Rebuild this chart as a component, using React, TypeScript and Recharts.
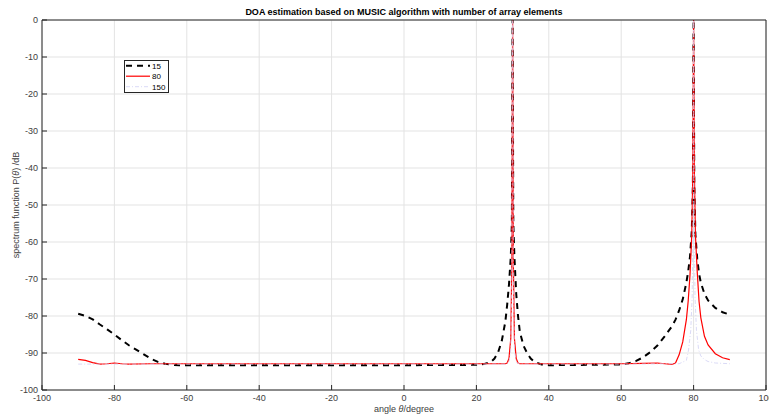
import React from "react";
import {
  LineChart,
  Line,
  XAxis,
  YAxis,
  CartesianGrid,
  Legend,
  Label,
} from "recharts";

const TITLE = "DOA estimation based on MUSIC algorithm with number of array elements";
const X_TICKS = [-100, -80, -60, -40, -20, 0, 20, 40, 60, 80, 100];
const Y_TICKS = [-100, -90, -80, -70, -60, -50, -40, -30, -20, -10, 0];

// 15 array elements (black dashed)
const ANGLES_15 = [-90, -88, -86, -84, -82, -80, -78, -76, -74, -72, -70, -68, -66, -64, -62, -60, -40, -20, 0, 20, 22, 24, 25, 26, 27, 28, 28.5, 29, 29.5, 29.8, 30, 30.2, 30.5, 31, 31.5, 32, 33, 34, 35, 36, 38, 40, 60, 62, 64, 66, 68, 70, 72, 74, 75, 76, 77, 78, 78.5, 79, 79.5, 79.8, 80, 80.2, 80.5, 81, 81.5, 82, 83, 84, 86, 88, 90];
const DB_15 = [-79.4, -80.0, -80.9, -82.3, -83.6, -85.0, -86.5, -87.9, -89.1, -90.3, -91.5, -92.4, -92.9, -93.2, -93.3, -93.3, -93.3, -93.3, -93.3, -93.2, -93.0, -92.4, -91.5, -89.8, -86.8, -81.5, -77, -71.5, -64, -55, 0, -55, -64, -74, -80, -84.3, -88, -90, -91.5, -92.4, -93.1, -93.3, -93.1, -92.8, -92.2, -91.2, -89.8, -88, -85.5, -82.8, -81, -78.5, -75.5, -71, -68, -64, -57, -45, 0, -45, -58, -64.5, -68.5, -71, -74, -75.8, -77.8, -79, -79.6];

// 80 array elements (red)
const ANGLES_80 = [-90, -88, -86, -84, -82, -80, -78, -76, -70, -60, -40, -20, 0, 20, 28, 28.5, 29, 29.5, 29.8, 30, 30.2, 30.5, 31, 31.5, 32, 40, 60, 66, 70, 72, 74, 75, 76, 77, 78, 78.5, 79, 79.5, 79.8, 80, 80.2, 80.5, 81, 81.5, 82, 83, 84, 86, 88, 90];
const DB_80 = [-91.7, -92.0, -92.6, -93.0, -92.9, -92.7, -92.9, -93.0, -92.9, -92.9, -92.9, -92.9, -92.9, -92.9, -92.9, -92.7, -91.5, -86, -65, 0, -65, -86, -91.5, -92.7, -92.9, -92.9, -92.9, -92.8, -92.7, -92.9, -93.1, -92.7, -90.5, -87, -81, -76, -69, -58, -40, 0, -40, -58, -68, -76, -80.5, -85.5, -87.8, -90.2, -91.3, -91.8];

// 150 array elements (faint dash-dot)
const ANGLES_150 = [-90, -60, -30, 0, 28, 29, 29.5, 29.8, 30, 30.2, 30.5, 31, 32, 60, 76, 78, 78.6, 79.2, 79.6, 79.9, 80, 80.1, 80.4, 80.8, 81.4, 82, 83, 84, 86, 90];
const DB_150 = [-93.0, -93.0, -93.0, -93.0, -93.0, -92.5, -89, -70, 0, -70, -89, -92.5, -93.0, -93.0, -92.9, -92.0, -89.2, -84, -75, -50, 0, -50, -75, -84, -89.2, -90.8, -91.8, -92.3, -92.7, -92.9];

const toPoints = (xs: number[], ys: number[]) => xs.map((x, i) => ({ angle: x, db: ys[i] }));

const SERIES = [
  { name: "15", data: toPoints(ANGLES_15, DB_15), color: "#000000", width: 2, dash: "6 5" },
  { name: "80", data: toPoints(ANGLES_80, DB_80), color: "#ff0000", width: 1.2, dash: undefined },
  { name: "150", data: toPoints(ANGLES_150, DB_150), color: "#d0d0f4", width: 0.8, dash: "4 2 1 2" },
];

const AXIS = "#262626";
const TICK_TEXT = "#404040";
const FONT = "'Liberation Sans', Arial, sans-serif";

const BottomTick = ({ x, y, payload }: any) => (
  <g>
    <line x1={x} x2={x} y1={y} y2={y - 5} stroke={AXIS} />
    <text x={x} y={y + 11} textAnchor="middle" fontSize={9} fill={TICK_TEXT} fontFamily={FONT}>
      {payload.value}
    </text>
  </g>
);
const TopTick = ({ x, y }: any) => <line x1={x} x2={x} y1={y} y2={y + 5} stroke={AXIS} />;
const LeftTick = ({ x, y, payload }: any) => (
  <g>
    <line x1={x} x2={x + 5} y1={y} y2={y} stroke={AXIS} />
    <text x={x - 4} y={y + 3} textAnchor="end" fontSize={9} fill={TICK_TEXT} fontFamily={FONT}>
      {payload.value}
    </text>
  </g>
);
const RightTick = ({ x, y }: any) => <line x1={x} x2={x - 5} y1={y} y2={y} stroke={AXIS} />;

const XTitle = ({ viewBox }: any) => (
  <text x={viewBox.x + viewBox.width / 2} y={412} textAnchor="middle" fontSize={9} fill={TICK_TEXT} fontFamily={FONT}>
    angle <tspan fontStyle="italic">θ</tspan>/degree
  </text>
);
const ChartTitle = ({ viewBox }: any) => (
  <text x={viewBox.x + viewBox.width / 2} y={15} textAnchor="middle" fontSize={9} fontWeight="bold" fill="#000" fontFamily={FONT}>
    {TITLE}
  </text>
);
const YTitle = ({ viewBox }: any) => {
  const cy = viewBox.y + viewBox.height / 2;
  return (
    <text x={19} y={cy} transform={`rotate(-90 19 ${cy})`} textAnchor="middle" fontSize={9} fill={TICK_TEXT} fontFamily={FONT}>
      spectrum function P(<tspan fontStyle="italic">θ</tspan>) /dB
    </text>
  );
};

const LegendBox = () => (
  <svg width={45} height={33} style={{ display: "block" }}>
    <rect x={0.5} y={0.5} width={44} height={32} fill="#fff" stroke={AXIS} />
    {SERIES.map((s, i) => {
      const y = 5.7 + i * 10.5;
      return (
        <g key={s.name}>
          <line x1={2} x2={26} y1={y} y2={y} stroke={s.color} strokeWidth={s.width} strokeDasharray={s.dash} />
          <text x={28} y={y + 3} fontSize={8} fill="#000" fontFamily={FONT}>
            {s.name}
          </text>
        </g>
      );
    })}
  </svg>
);

export default function App() {
  return (
    <div style={{ position: "absolute", left: 0, top: 0, width: 769, height: 416, background: "#fff" }}>
      <LineChart width={769} height={416} margin={{ top: 19, right: 2, left: 0, bottom: 0 }}>
        <CartesianGrid stroke="#e3e3e3" />
        <XAxis
          dataKey="angle"
          type="number"
          domain={[-100, 100]}
          ticks={X_TICKS}
          allowDataOverflow
          height={26}
          tickSize={0}
          tickMargin={0}
          tickLine={false}
          tick={BottomTick}
          stroke={AXIS}
          interval={0}
        >
          <Label content={XTitle} />
        </XAxis>
        <XAxis
          xAxisId="top"
          orientation="top"
          type="number"
          domain={[-100, 100]}
          ticks={X_TICKS}
          height={1}
          tickSize={0}
          tickMargin={0}
          tickLine={false}
          tick={TopTick}
          stroke={AXIS}
          interval={0}
        >
          <Label content={ChartTitle} />
        </XAxis>
        <YAxis
          type="number"
          domain={[-100, 0]}
          ticks={Y_TICKS}
          width={42}
          tickSize={0}
          tickMargin={0}
          tickLine={false}
          tick={LeftTick}
          stroke={AXIS}
          interval={0}
        >
          <Label content={YTitle} />
        </YAxis>
        <YAxis
          yAxisId="right"
          orientation="right"
          type="number"
          domain={[-100, 0]}
          ticks={Y_TICKS}
          width={1}
          tickSize={0}
          tickMargin={0}
          tickLine={false}
          tick={RightTick}
          stroke={AXIS}
          interval={0}
        />
        {SERIES.map((s) => (
          <Line
            key={s.name}
            data={s.data}
            dataKey="db"
            name={s.name}
            type="linear"
            stroke={s.color}
            strokeWidth={s.width}
            strokeDasharray={s.dash}
            dot={false}
            activeDot={false}
            isAnimationActive={false}
          />
        ))}
        <Legend
          layout="horizontal"
          verticalAlign="middle"
          align="center"
          content={LegendBox}
          wrapperStyle={{ left: 124, top: 60, width: 45, height: 33 }}
        />
      </LineChart>
    </div>
  );
}
